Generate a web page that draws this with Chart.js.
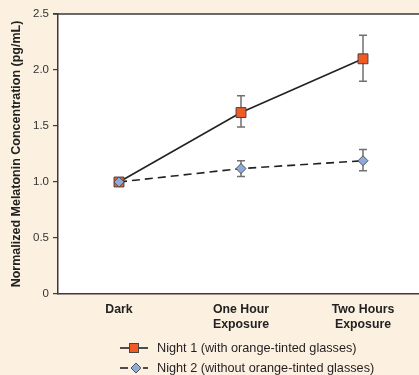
<!DOCTYPE html>
<html lang="en">
<head>
  <meta charset="UTF-8">
  <title>Melatonin Concentration</title>
  <script src="https://cdn.jsdelivr.net/npm/chart.js"></script>
  <style>
    body {
      margin: 0;
      width: 419px;
      height: 375px;
      overflow: hidden;
      background-color: #FCF1E1;
      font-family: 'Liberation Sans', Arial, sans-serif;
      position: relative;
    }
    #chart { position: absolute; left: 0; top: 0; }
    .legend { position: absolute; left: 120px; top: 338px; color: #231F20; font-size: 12.7px; }
    .legend div { display: flex; align-items: center; height: 20px; }
    .legend svg { margin-right: 7px; }
  </style>
</head>
<body>
  <canvas id="chart" width="432" height="375"></canvas>
  <div class="legend">
    <div>
      <svg width="30" height="12"><line x1="0" y1="6" x2="28" y2="6" stroke="#222" stroke-width="1.6"/><rect x="9.5" y="1.5" width="9" height="9" fill="#F15A24" stroke="#444" stroke-width="1"/></svg>
      <span>Night 1 (with orange-tinted glasses)</span>
    </div>
    <div>
      <svg width="30" height="12"><line x1="0" y1="6" x2="8" y2="6" stroke="#222" stroke-width="1.6"/><line x1="23" y1="6" x2="28" y2="6" stroke="#222" stroke-width="1.6"/><polygon points="16,1 21,6 16,11 11,6" fill="#8EA9DB" stroke="#555" stroke-width="1"/></svg>
      <span>Night 2 (without orange-tinted glasses)</span>
    </div>
  </div>

  <script>
    const categories = ['Dark', ['One Hour', 'Exposure'], ['Two Hours', 'Exposure']];
    const night1 = [1.0, 1.62, 2.1];
    const night1Upper = [null, 1.77, 2.31];
    const night1Lower = [null, 1.49, 1.90];
    const night2 = [1.0, 1.12, 1.19];
    const night2Upper = [null, 1.19, 1.29];
    const night2Lower = [null, 1.05, 1.10];
    const yTicks = [0, 0.5, 1.0, 1.5, 2.0, 2.5];

    // white plot area + top border line
    const plotFrame = {
      id: 'plotFrame',
      beforeDraw(chart) {
        const { ctx, chartArea: a } = chart;
        ctx.save();
        ctx.fillStyle = '#ffffff';
        ctx.fillRect(a.left, a.top, a.right - a.left, a.bottom - a.top);
        ctx.strokeStyle = '#3a3a3a';
        ctx.lineWidth = 1.5;
        ctx.beginPath();
        ctx.moveTo(a.left - 5, a.top);
        ctx.lineTo(a.right, a.top);
        ctx.stroke();
        ctx.restore();
      }
    };

    const errorBars = {
      id: 'errorBars',
      beforeDatasetsDraw(chart) {
        const { ctx, scales: { x, y } } = chart;
        ctx.save();
        ctx.strokeStyle = '#707070';
        ctx.lineWidth = 1.5;
        [[night1Upper, night1Lower], [night2Upper, night2Lower]].forEach(([up, low]) => {
          up.forEach((u, i) => {
            if (u == null) return;
            const px = x.getPixelForValue(i);
            const top = y.getPixelForValue(u);
            const bot = y.getPixelForValue(low[i]);
            ctx.beginPath();
            ctx.moveTo(px, top); ctx.lineTo(px, bot);
            ctx.moveTo(px - 4, top); ctx.lineTo(px + 4, top);
            ctx.moveTo(px - 4, bot); ctx.lineTo(px + 4, bot);
            ctx.stroke();
          });
        });
        ctx.restore();
      }
    };

    new Chart(document.getElementById('chart'), {
      type: 'line',
      data: {
        labels: categories,
        datasets: [
          {
            label: 'Night 1 (with orange-tinted glasses)',
            data: night1,
            borderColor: '#222',
            borderWidth: 1.6,
            pointStyle: 'rect',
            pointRadius: 7,
            pointBackgroundColor: '#F15A24',
            pointBorderColor: '#444',
            pointBorderWidth: 1,
            order: 1
          },
          {
            label: 'Night 2 (without orange-tinted glasses)',
            data: night2,
            borderColor: '#222',
            borderWidth: 1.6,
            borderDash: [8, 5],
            pointStyle: 'rectRot',
            pointRadius: 5,
            pointBackgroundColor: '#8EA9DB',
            pointBorderColor: '#555',
            pointBorderWidth: 1,
            order: 0
          }
        ]
      },
      options: {
        responsive: false,
        animation: false,
        layout: { padding: { top: 14, left: 0, right: 0, bottom: 0 } },
        plugins: { legend: { display: false }, tooltip: { enabled: false } },
        scales: {
          x: {
            offset: true,
            afterFit: s => { s.height = 81; },
            grid: { drawOnChartArea: false, drawTicks: false },
            border: { color: '#3a3a3a', width: 1.5 },
            ticks: {
              padding: 8,
              color: '#222',
              font: { family: 'Liberation Sans', size: 12.3, weight: 'bold', lineHeight: 1.25 }
            }
          },
          y: {
            min: 0,
            max: 2.5,
            afterFit: s => { s.width = 58; },
            afterBuildTicks: s => { s.ticks = yTicks.map(v => ({ value: v })); },
            grid: { drawOnChartArea: false, drawTicks: true, tickLength: 5, color: '#3a3a3a', lineWidth: 1.2 },
            border: { color: '#3a3a3a', width: 1.5 },
            ticks: {
              padding: 4,
              color: '#333',
              font: { family: 'Liberation Sans', size: 11.5 },
              callback: v => v === 0 ? '0' : v.toFixed(1)
            },
            title: {
              display: true,
              text: 'Normalized Melatonin Concentration (pg/mL)',
              color: '#222',
              padding: 9,
              font: { family: 'Liberation Sans', size: 12.5, weight: 'bold' }
            }
          }
        }
      },
      plugins: [plotFrame, errorBars]
    });
  </script>
</body>
</html>
